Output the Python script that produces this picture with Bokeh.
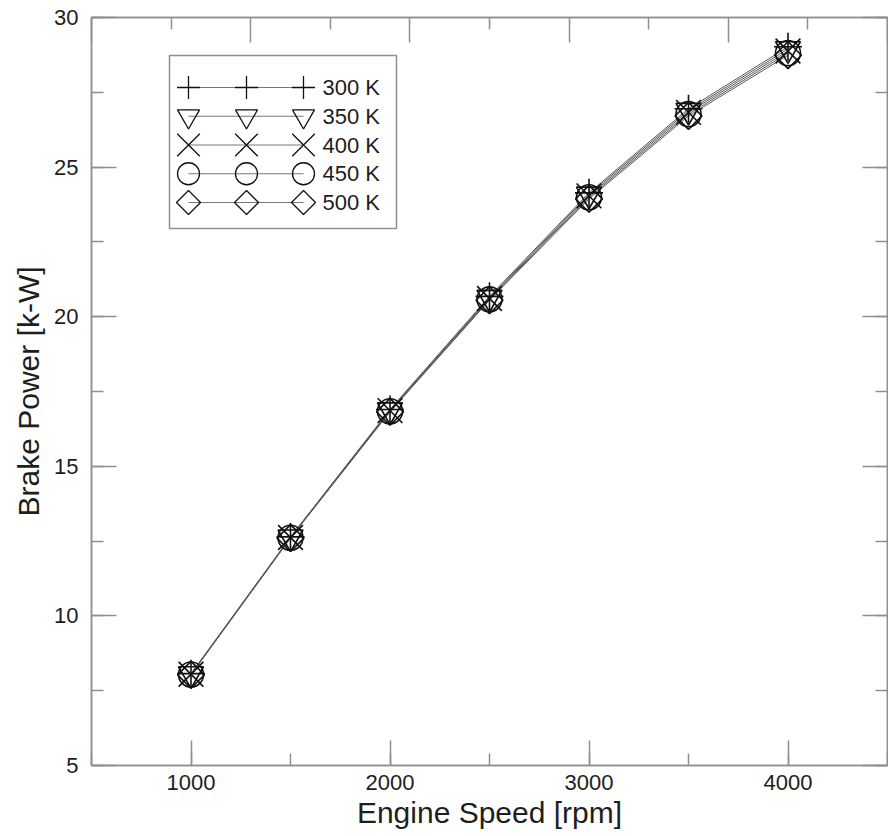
import numpy as np
from bokeh.plotting import figure
from bokeh.models import Range1d, LinearAxis, SingleIntervalTicker, FixedTicker, CustomJSTickFormatter
from bokeh.core.properties import value
from bokeh.embed import file_html
from bokeh.resources import INLINE

# ---------------- data ----------------
rpm = [1000, 1500, 2000, 2500, 3000, 3500, 4000]
series_labels = ["300 K", "350 K", "400 K", "450 K", "500 K"]
power_300 = [8.07, 12.64, 16.90, 20.68, 24.14, 26.95, 29.02]
power_350 = [8.06, 12.63, 16.88, 20.64, 24.09, 26.89, 28.95]
power_400 = [8.05, 12.62, 16.86, 20.61, 24.04, 26.83, 28.88]
power_450 = [8.04, 12.61, 16.84, 20.58, 23.99, 26.77, 28.81]
power_500 = [8.03, 12.60, 16.82, 20.55, 23.94, 26.71, 28.74]
x_ticks_interval = 1000
y_ticks_interval = 5

# ---------------- style ----------------
FONT = "Liberation Sans"
GRAY = "#8f8f8f"
TXT = "#1e1e1e"
FRAME_W, FRAME_H = 796, 748

markers = [
    dict(marker="cross", size=28, angle=0.0, lsize=23, langle=0.0),
    dict(marker="inverted_triangle", size=25, angle=0.0, lsize=22, langle=0.0),
    dict(marker="x", size=35, angle=0.0, lsize=32, langle=0.0),
    dict(marker="circle", size=25, angle=0.0, lsize=22, langle=0.0),
    dict(marker="square", size=19, angle=np.pi / 4, lsize=17, langle=np.pi / 4),
]
all_series = [power_300, power_350, power_400, power_450, power_500]

p = figure(frame_width=FRAME_W, frame_height=FRAME_H,
           x_range=(500, 4500), y_range=(5, 30),
           output_backend="svg", toolbar_location=None,
           min_border_left=91, min_border_right=1, min_border_top=17, min_border_bottom=66,
           x_axis_label="Engine Speed [rpm]", y_axis_label="Brake Power [k-W]")
p.grid.visible = False
p.outline_line_color = GRAY
p.outline_line_width = 1.5
p.background_fill_color = "white"
p.border_fill_color = "white"

p.extra_x_ranges = {"top": Range1d(0, 10), "px": Range1d(0, FRAME_W)}
p.extra_y_ranges = {"px": Range1d(FRAME_H, 0)}

def style_axis(ax):
    ax.major_tick_in = 25
    ax.major_tick_out = 0
    ax.minor_tick_in = 12
    ax.minor_tick_out = 0
    ax.axis_line_color = GRAY
    ax.axis_line_width = 1.5
    ax.major_tick_line_color = GRAY
    ax.major_tick_line_width = 1.5
    ax.minor_tick_line_color = GRAY
    ax.minor_tick_line_width = 1.5
    ax.major_label_text_font = FONT
    ax.major_label_text_font_size = "22px"
    ax.major_label_text_color = TXT
    ax.axis_label_text_font = FONT
    ax.axis_label_text_font_size = "30px"
    ax.axis_label_text_font_style = "normal"
    ax.axis_label_text_color = TXT

xa = p.xaxis[0]
ya = p.yaxis[0]
style_axis(xa)
style_axis(ya)
xa.ticker = SingleIntervalTicker(interval=x_ticks_interval, num_minor_ticks=2)
ya.ticker = SingleIntervalTicker(interval=y_ticks_interval, num_minor_ticks=2)
xa.major_label_standoff = 9
xa.axis_label_standoff = 3
ya.major_label_standoff = 13
ya.axis_label_standoff = 6

blank = CustomJSTickFormatter(code="return ''")
ra = LinearAxis(ticker=SingleIntervalTicker(interval=y_ticks_interval, num_minor_ticks=2), formatter=blank)
style_axis(ra)
ra.major_label_text_font_size = "0px"
ra.major_label_standoff = 0
p.add_layout(ra, "right")

ta = LinearAxis(x_range_name="top", ticker=FixedTicker(ticks=[0, 2, 4, 6, 8, 10], minor_ticks=[1, 3, 5, 7, 9]), formatter=blank)
style_axis(ta)
ta.major_label_text_font_size = "0px"
ta.major_label_standoff = 0
p.add_layout(ta, "above")

# ---------------- data lines & markers ----------------
for vals in all_series:
    p.line(rpm, vals, line_color="#5a5a5a", line_width=1)
for vals, m in zip(all_series, markers):
    p.scatter(rpm, vals, marker=m["marker"], size=m["size"], angle=m["angle"],
              fill_alpha=0, line_color="#111111", line_width=1.6)

# ---------------- legend (pixel layout in frame coordinates) ----------------
LEG_L, LEG_T, LEG_R, LEG_B = 78, 38, 305, 211
ROW0, ROW_DY = 70, 28.75
MX = [97, 155, 212]
TX = 231
p.quad(left=[LEG_L], right=[LEG_R], top=[LEG_T], bottom=[LEG_B],
       x_range_name="px", y_range_name="px",
       fill_color="white", line_color=GRAY, line_width=1.5)
for i, (lab, m) in enumerate(zip(series_labels, markers)):
    yy = ROW0 + i * ROW_DY
    p.line([MX[0], MX[-1]], [yy, yy], x_range_name="px", y_range_name="px",
           line_color="#777777", line_width=1)
    p.scatter(MX, [yy] * 3, marker=m["marker"], size=m["lsize"], angle=m["langle"],
              fill_alpha=0, line_color="#111111", line_width=1.3,
              x_range_name="px", y_range_name="px")
    p.text(x=[TX], y=[yy], text=[lab], text_font=value(FONT), text_font_size="22px",
           text_color=TXT, text_baseline="middle", text_align="left",
           x_range_name="px", y_range_name="px")

open("out.html", "w").write(file_html(p, INLINE))
